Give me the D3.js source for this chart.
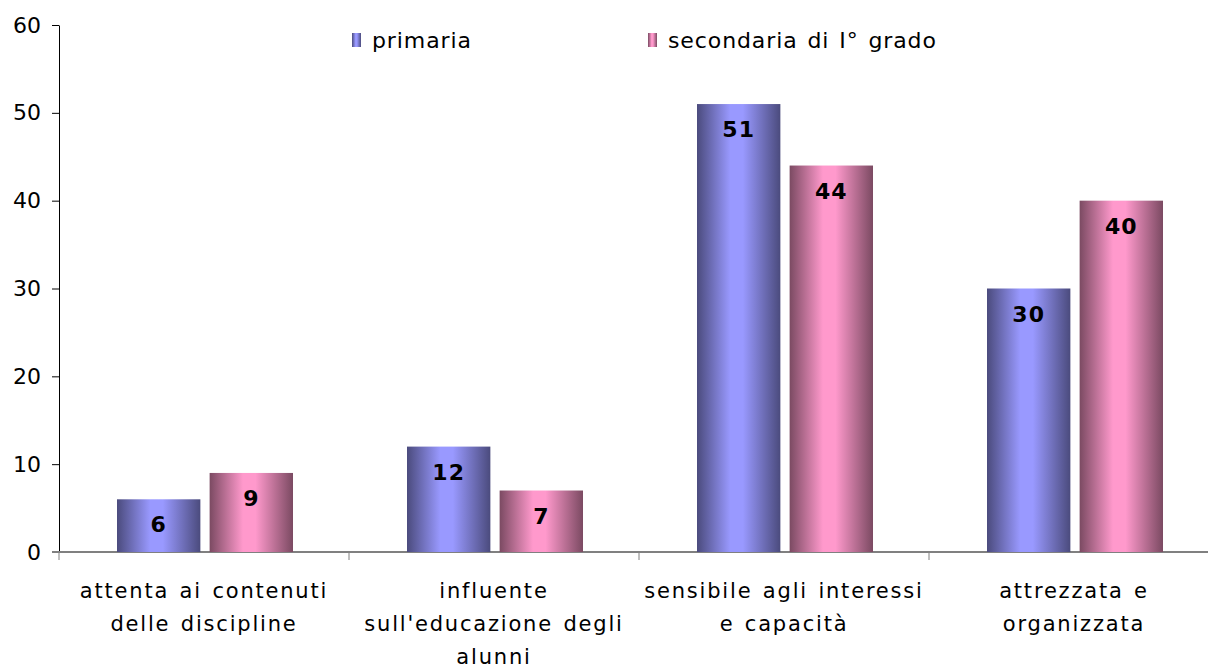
<!DOCTYPE html>
<html lang="it">
<head>
<meta charset="UTF-8">
<title>Chart</title>
<style>
    body { margin: 0; background: #fff; }
    svg text { font-family: "DejaVu Sans", Verdana, sans-serif; fill: #000; }
</style>
</head>
<body>
<svg id="chart"></svg>
<script src="https://d3js.org/d3.v7.min.js"></script>
<script>
    // data
    const categories = [
        ["attenta ai contenuti", "delle discipline"],
        ["influente", "sull'educazione degli", "alunni"],
        ["sensibile agli interessi", "e capacità"],
        ["attrezzata e", "organizzata"]
    ];
    const series_names = ["primaria", "secondaria di I° grado"];
    const primaria = [6, 12, 51, 30];
    const secondaria = [9, 7, 44, 40];
    const y_ticks = [0, 10, 20, 30, 40, 50, 60];

    const width = 1208, height = 666;
    const margin = {top: 25, right: -11, bottom: 114, left: 59};
    const inner_w = width - margin.left - margin.right;
    const inner_h = height - margin.top - margin.bottom;

    const svg = d3.select("#chart").attr("width", width).attr("height", height);

    // gradients for the cylinder-ish bars
    const defs = svg.append("defs");
    const grads = [
        {id: "g_blue", edge: "#4b4b7d", mid: "#9999ff"},
        {id: "g_pink", edge: "#7b4a62", mid: "#ff99cc"}
    ];
    grads.forEach(g => {
        const lg = defs.append("linearGradient").attr("id", g.id)
            .attr("x1", "0%").attr("x2", "100%").attr("y1", "0%").attr("y2", "0%");
        lg.append("stop").attr("offset", "0%").attr("stop-color", g.edge);
        lg.append("stop").attr("offset", "40%").attr("stop-color", g.mid);
        lg.append("stop").attr("offset", "55%").attr("stop-color", g.mid);
        lg.append("stop").attr("offset", "100%").attr("stop-color", g.edge);
    });

    const plot = svg.append("g")
        .attr("transform", "translate(" + margin.left + "," + margin.top + ")");

    const x_scale = d3.scaleBand()
        .domain(d3.range(categories.length))
        .range([0, inner_w]);

    const x_inner = d3.scaleBand()
        .domain([0, 1])
        .range([58, x_scale.bandwidth() - 56])
        .paddingInner(0.1);

    const y_scale = d3.scaleLinear()
        .domain([0, 60])
        .range([inner_h, 0]);

    // y axis
    const y_axis = plot.append("g")
        .call(d3.axisLeft(y_scale).tickValues(y_ticks).tickSize(7).tickSizeOuter(0)
            .tickPadding(11).tickFormat(d3.format("d")));
    y_axis.selectAll("text").style("font-size", "22px");
    y_axis.select(".domain").attr("stroke", "#000");

    // x axis line + boundary ticks
    plot.append("line")
        .attr("x1", -7).attr("x2", inner_w)
        .attr("y1", inner_h).attr("y2", inner_h)
        .attr("stroke", "#808080").attr("stroke-width", 2);
    plot.selectAll(".xtick")
        .data(d3.range(categories.length + 1))
        .enter().append("line")
        .attr("x1", d => d * x_scale.step()).attr("x2", d => d * x_scale.step())
        .attr("y1", inner_h).attr("y2", inner_h + 8)
        .attr("stroke", "#808080").attr("stroke-width", 1);

    // bars
    const groups = plot.selectAll(".grp")
        .data(categories.map((c, i) => [primaria[i], secondaria[i]]))
        .enter().append("g")
        .attr("transform", (d, i) => "translate(" + x_scale(i) + ",0)");

    groups.selectAll("rect")
        .data(d => d)
        .enter().append("rect")
        .attr("x", (d, j) => x_inner(j))
        .attr("width", x_inner.bandwidth())
        .attr("y", d => y_scale(d))
        .attr("height", d => inner_h - y_scale(d))
        .attr("fill", (d, j) => "url(#" + grads[j].id + ")");

    groups.selectAll(".val")
        .data(d => d)
        .enter().append("text")
        .attr("x", (d, j) => x_inner(j) + x_inner.bandwidth() / 2)
        .attr("y", d => y_scale(d) + 33)
        .attr("text-anchor", "middle")
        .style("font-size", "22px")
        .style("font-weight", "bold")
        .style("letter-spacing", "1px")
        .text(d => d);

    // category labels
    plot.selectAll(".cat")
        .data(categories)
        .enter().append("text")
        .attr("x", (d, i) => x_scale(i) + x_scale.bandwidth() / 2)
        .attr("y", inner_h + 46)
        .attr("text-anchor", "middle")
        .style("font-size", "21px")
        .style("letter-spacing", "1.8px")
        .style("word-spacing", "2px")
        .each(function(lines) {
            d3.select(this).selectAll("tspan")
                .data(lines)
                .enter().append("tspan")
                .attr("x", d3.select(this).attr("x"))
                .attr("dy", (d, k) => k === 0 ? 0 : 33)
                .text(d => d);
        });

    // legend
    const legend_x = [352, 648];
    const legend = svg.selectAll(".leg")
        .data(series_names)
        .enter().append("g")
        .attr("transform", (d, i) => "translate(" + legend_x[i] + ",33)");
    legend.append("rect")
        .attr("width", 9).attr("height", 14)
        .attr("fill", (d, i) => "url(#" + grads[i].id + ")");
    legend.append("text")
        .attr("x", 20).attr("y", 15)
        .style("font-size", "22px")
        .style("letter-spacing", "0.9px")
        .style("word-spacing", "2px")
        .text(d => d);
</script>
</body>
</html>
